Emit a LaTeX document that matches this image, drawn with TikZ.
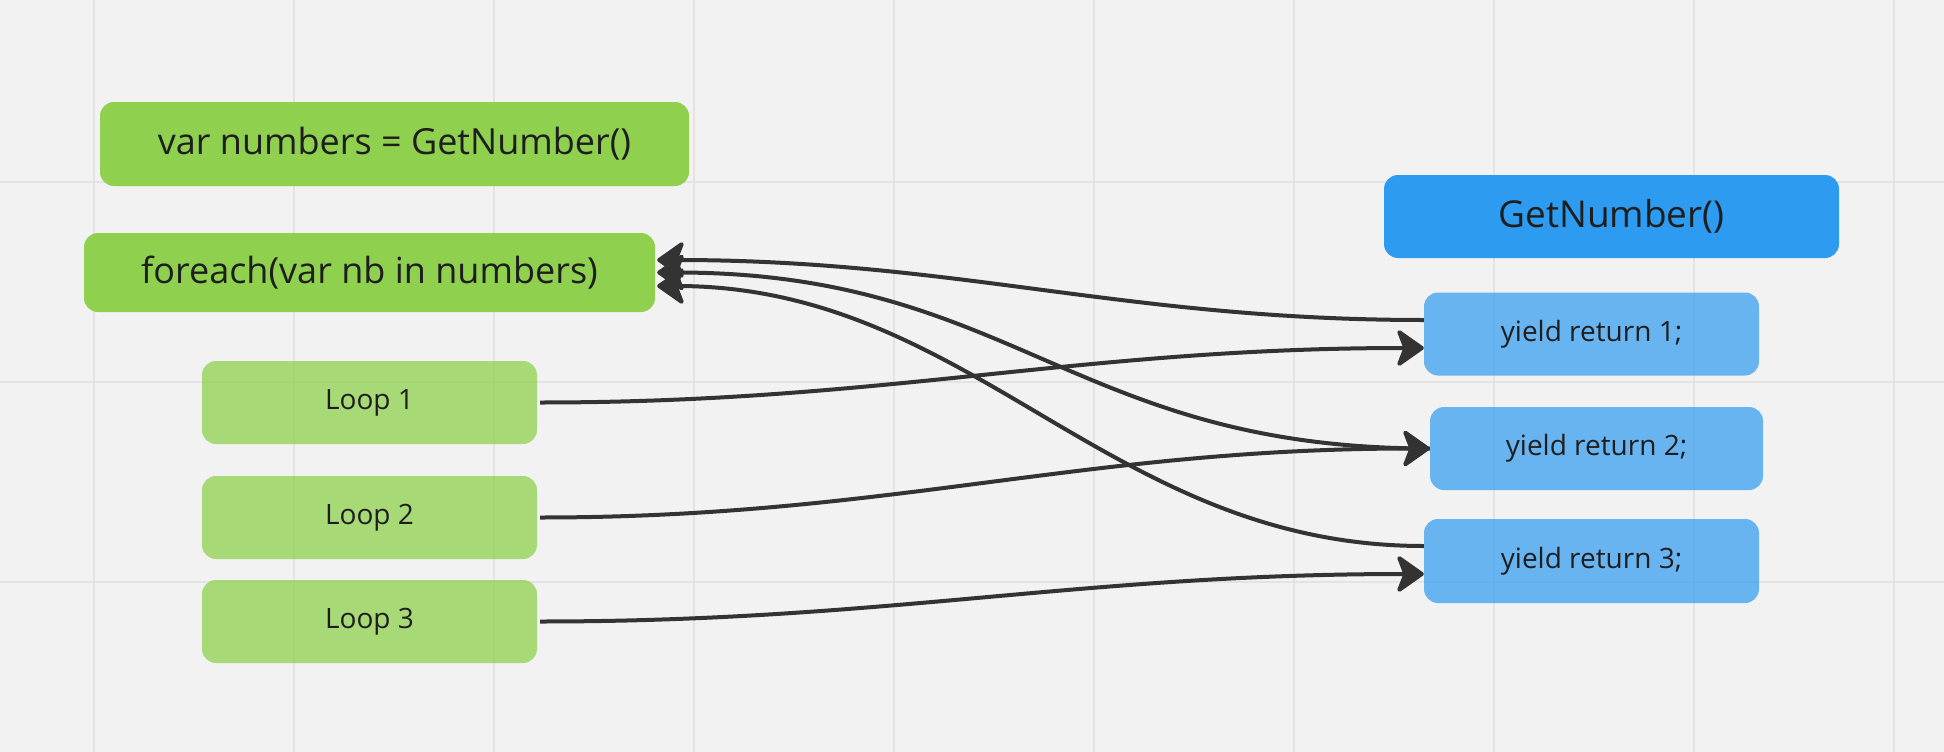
\documentclass[tikz,border=0pt]{standalone}
\usepackage{fontspec}
\setmainfont{Open Sans}
\usetikzlibrary{arrows.meta}
\definecolor{bg}{HTML}{F2F2F2}
\definecolor{gridc}{HTML}{E3E3E3}
\definecolor{mirogreen}{HTML}{8FD14F}
\definecolor{miroblue}{HTML}{2D9BF0}
\definecolor{ink}{HTML}{1E1E1E}
\definecolor{wire}{HTML}{333333}
\begin{document}
\begin{tikzpicture}[x=1pt,y=-1pt,
  box/.style={rounded corners=14pt, inner sep=0pt, text=ink, align=center},
  callbox/.style={box, fill=mirogreen, font=\fontsize{36}{43}\selectfont},
  loopbox/.style={box, fill=mirogreen, fill opacity=0.75, text opacity=1,
    minimum width=335pt, minimum height=83pt, font=\fontsize{28}{34}\selectfont},
  funcbox/.style={box, fill=miroblue, font=\fontsize{37}{44}\selectfont},
  yieldbox/.style={box, fill=miroblue, fill opacity=0.7, text opacity=1,
    minimum width=335pt, minimum height=83pt, font=\fontsize{28}{34}\selectfont},
  flow/.style={draw=wire, line width=4pt,
    -{Stealth[length=30pt,width=42pt,inset=8pt,round]}},
]
\useasboundingbox (0,0) rectangle (1944,752);
% canvas and grid
\fill[bg] (0,0) rectangle (1944,752);
\foreach \gx in {94,294,...,1894} \draw[gridc, line width=2pt] (\gx,0) -- (\gx,752);
\foreach \gy in {182,382,582} \draw[gridc, line width=2pt] (0,\gy) -- (1944,\gy);

% caller side
\node[callbox, minimum width=589pt, minimum height=84pt] (decl) at (394.5,144) {var numbers = GetNumber()};
\node[callbox, minimum width=571pt, minimum height=79pt] (loopfor) at (369.5,272.5) {foreach(var nb in numbers)};
\node[loopbox] (loop1) at (369.5,402.5) {Loop 1};
\node[loopbox] (loop2) at (369.5,517.5) {Loop 2};
\node[loopbox] (loop3) at (369.5,621.5) {Loop 3};

% iterator side
\node[funcbox, minimum width=455pt, minimum height=83pt] (getnum) at (1611.5,216.5) {GetNumber()};
\node[yieldbox] (yield1) at (1591.5,334) {yield return 1;};
\node[yieldbox, minimum width=333pt] (yield2) at (1596.5,448.5) {yield return 2;};
\node[yieldbox, minimum height=84pt] (yield3) at (1591.5,561) {yield return 3;};

% control flow
\draw[flow] ([yshift=14pt]yield1.west) to[out=180,in=0] ([xshift=2pt,yshift=12.5pt]loopfor.east);
\draw[flow] (yield2.west) to[out=180,in=0,looseness=1.15] ([xshift=2pt]loopfor.east);
\draw[flow] ([yshift=15pt]yield3.west) to[out=180,in=0] ([xshift=2pt,yshift=-13.5pt]loopfor.east);
\draw[flow] ([xshift=3pt]loop1.east) to[out=0,in=180] ([yshift=-14pt]yield1.west);
\draw[flow] ([xshift=3pt]loop2.east) to[out=0,in=180] (yield2.west);
\draw[flow] ([xshift=3pt]loop3.east) to[out=0,in=180] ([yshift=-13pt]yield3.west);
\end{tikzpicture}
\end{document}
